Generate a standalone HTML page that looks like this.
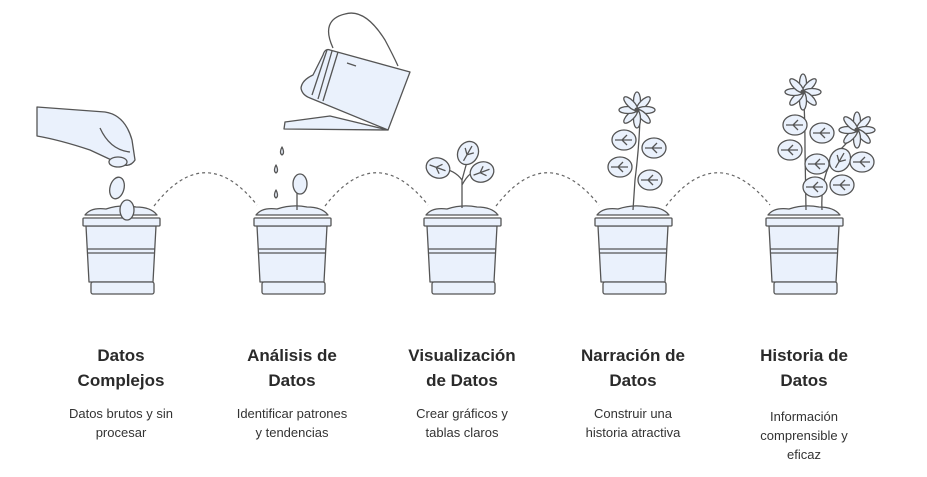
<!DOCTYPE html>
<html><head><meta charset="utf-8"><style>
body{margin:0;background:#fff;width:927px;height:477px;overflow:hidden;font-family:"Liberation Sans",sans-serif}
.t{position:absolute;width:170px;text-align:center;color:#2a2a2a}
.h{font-weight:bold;font-size:17px;line-height:25px;top:343px}
.d{font-size:13px;line-height:19px;top:404px;color:#333}
</style></head><body>
<svg width="927" height="477" style="position:absolute;left:0;top:0" fill="#eaf1fc" stroke="#555" stroke-width="1.3" stroke-linejoin="round">
<defs>
<g id="pot">
<path d="M-36,215 Q-30,207 -15,209 Q0,204 15,207 Q30,207 36,215 Z"/>
<path d="M-35,226 L-32,282 L32,282 L35,226 Z"/>
<rect x="-38" y="218" width="77" height="8" rx="1"/>
<path d="M-34,249 L34,249 M-34,253 L34,253" fill="none"/>
<rect x="-30" y="282" width="63" height="12" rx="2"/>
</g>
<g id="leaf"><ellipse cx="0" cy="0" rx="12" ry="10"/><path d="M-9,0 L8,0 M-2,0 L3,-5 M-2,0 L3,5" fill="none"/></g>
<g id="flower"><g fill="#eaf1fc"><ellipse cx="0" cy="-9" rx="3.5" ry="9"/><ellipse cx="0" cy="-9" rx="3.5" ry="9" transform="rotate(45)"/><ellipse cx="0" cy="-9" rx="3.5" ry="9" transform="rotate(90)"/><ellipse cx="0" cy="-9" rx="3.5" ry="9" transform="rotate(135)"/><ellipse cx="0" cy="-9" rx="3.5" ry="9" transform="rotate(180)"/><ellipse cx="0" cy="-9" rx="3.5" ry="9" transform="rotate(225)"/><ellipse cx="0" cy="-9" rx="3.5" ry="9" transform="rotate(270)"/><ellipse cx="0" cy="-9" rx="3.5" ry="9" transform="rotate(315)"/></g><circle r="2" fill="#555"/></g>
</defs>
<g fill="none" stroke="#666" stroke-dasharray="3,3" stroke-width="1.2">
<path d="M154,206 Q205,140 257,205"/>
<path d="M325,206 Q376,140 428,205"/>
<path d="M496,206 Q547,140 599,205"/>
<path d="M666,206 Q717,140 770,205"/>
</g>
<!-- hand -->
<path d="M37,107 L105,112 Q125,115 132,140 L135,160 Q130,168 120,164 L90,150 Q60,140 37,136 Z"/>
<path d="M100,128 Q110,150 130,152" fill="none"/>
<ellipse cx="118" cy="162" rx="9" ry="5"/>
<ellipse cx="117" cy="188" rx="7" ry="11" transform="rotate(15 117 188)"/>
<use href="#pot" x="121"/>
<ellipse cx="127" cy="210" rx="7" ry="10"/>
<!-- watering can -->
<path d="M333,48 Q320,20 345,14 Q365,8 385,40 Q393,55 398,66" fill="none"/>
<path d="M330,116 L285,122 L284,129 L388,130 Z"/>
<path d="M330,50 Q325,48 323,55 L313,75 Q302,80 301,88 Q302,95 310,98 L388,130 L410,72 Z"/>
<path d="M327,50 L312,95 M332,51 L318,99 M338,52 L323,101 M347,63 L356,66" fill="none"/>
<path d="M282,147 q3,6 0,8 q-3,-2 0,-8Z M276,165 q3,6 0,8 q-3,-2 0,-8Z M276,190 q3,6 0,8 q-3,-2 0,-8Z"/>
<use href="#pot" x="292"/>
<path d="M297,210 L297,190" fill="none"/>
<ellipse cx="300" cy="184" rx="7" ry="10"/>
<!-- plant 3 -->
<use href="#pot" x="462"/>
<path d="M462,208 L462,180 Q455,170 440,168 M462,185 Q470,170 480,170 M462,180 L468,158" fill="none"/>
<use href="#leaf" x="438" y="168" transform="rotate(20 438 168)"/>
<use href="#leaf" x="482" y="172" transform="rotate(-20 482 172)"/>
<use href="#leaf" x="468" y="153" transform="rotate(-60 468 153)"/>
<!-- plant 4 -->
<use href="#pot" x="633"/>
<path d="M633,210 L635,180 Q640,140 640,110" fill="none"/>
<use href="#leaf" x="624" y="140"/><use href="#leaf" x="654" y="148"/>
<use href="#leaf" x="620" y="167"/><use href="#leaf" x="650" y="180"/>
<use href="#flower" x="637" y="110"/>
<!-- plant 5 -->
<use href="#pot" x="804"/>
<path d="M806,210 L805,150 Q805,110 803,92 M822,210 Q820,170 840,150 Q850,140 857,130" fill="none"/>
<use href="#leaf" x="795" y="125"/><use href="#leaf" x="822" y="133"/>
<use href="#leaf" x="790" y="150"/><use href="#leaf" x="817" y="164"/>
<use href="#leaf" x="815" y="187"/><use href="#leaf" x="842" y="185"/>
<use href="#leaf" x="840" y="160" transform="rotate(-60 840 160)"/><use href="#leaf" x="862" y="162"/>
<use href="#flower" x="803" y="92"/><use href="#flower" x="857" y="130"/>
</svg>
<div class="t h" style="left:36px">Datos<br>Complejos</div>
<div class="t d" style="left:36px">Datos brutos y sin<br>procesar</div>
<div class="t h" style="left:207px">Análisis de<br>Datos</div>
<div class="t d" style="left:207px">Identificar patrones<br>y tendencias</div>
<div class="t h" style="left:377px">Visualización<br>de Datos</div>
<div class="t d" style="left:377px">Crear gráficos y<br>tablas claros</div>
<div class="t h" style="left:548px">Narración de<br>Datos</div>
<div class="t d" style="left:548px">Construir una<br>historia atractiva</div>
<div class="t h" style="left:719px">Historia de<br>Datos</div>
<div class="t d" style="left:719px;top:407px">Información<br>comprensible y<br>eficaz</div>
</body></html>
